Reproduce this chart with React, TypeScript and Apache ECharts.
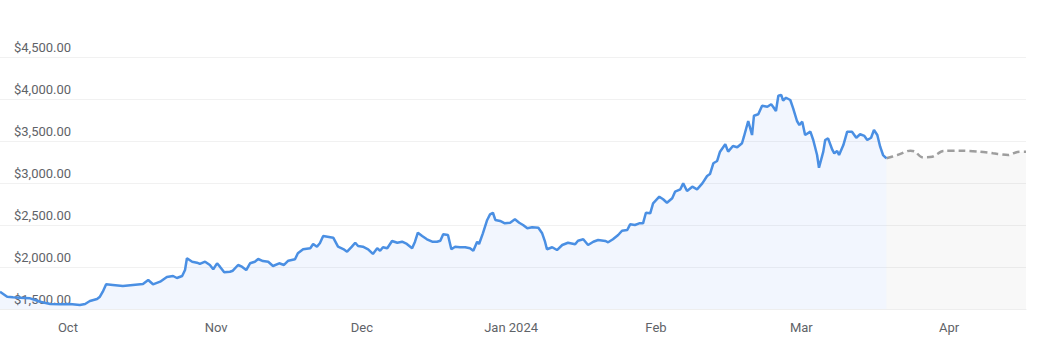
import React, { useEffect, useRef } from "react";
import * as echarts from "echarts";

const histDays = [
  0, 1.5, 2.7, 4.2, 6.3, 8.4, 10.5, 12.6, 14.6, 16.7, 17.8, 18.8, 20.3, 20.9, 21.5, 22.2, 23.6, 25.7, 27.8, 29.9,
  31.0, 32.0, 33.5, 34.9, 36.2, 37.0, 38.1, 38.7, 39.1, 40.2, 41.2, 41.8, 42.9, 43.9, 44.6, 45.4, 46.0, 46.9, 48.1, 48.7,
  49.8, 50.6, 51.5, 52.3, 53.3, 54.0, 55.0, 56.1, 57.1, 58.4, 59.4, 60.3, 61.7, 62.3, 63.4, 64.9, 65.5, 66.3, 66.9, 67.6,
  69.7, 70.7, 71.8, 72.6, 73.6, 74.3, 74.9, 75.9, 77.0, 78.0, 78.9, 79.5, 80.1, 81.0, 82.0, 83.1, 84.1, 85.1, 86.2, 86.8,
  87.4, 88.3, 89.3, 90.4, 91.4, 92.1, 92.7, 93.7, 94.4, 95.2, 96.2, 97.3, 98.3, 99.0, 99.8, 100.2, 101.0, 101.9, 102.5, 103.1,
  103.6, 104.6, 105.6, 106.7, 107.7, 108.6, 109.4, 110.3, 111.3, 112.6, 113.4, 114.0, 114.4, 115.5, 116.5, 117.6, 118.8, 120.3, 120.9, 122.0,
  123.0, 124.1, 125.1, 126.6, 127.2, 128.2, 129.3, 130.1, 131.2, 131.8, 132.8, 133.7, 134.5, 135.1, 136.0, 136.6, 137.9, 138.7, 139.5, 140.6,
  141.2, 142.3, 142.9, 143.7, 144.8, 145.8, 146.9, 147.9, 148.5, 149.2, 150.0, 150.6, 151.7, 152.3, 153.3, 154.2, 155.2, 155.6, 156.5, 157.3,
  157.7, 158.6, 159.4, 160.5, 161.3, 161.7, 162.3, 162.8, 163.4, 163.8, 164.4, 165.3, 165.9, 166.7, 167.2, 167.8, 168.4, 169.5, 170.1, 170.9,
  171.3, 172.2, 172.6, 173.2, 174.1, 174.5, 175.1, 175.5, 176.4, 177.2, 178.2, 179.1, 179.9, 180.8, 181.4, 182.2, 182.8, 183.5, 184.1, 184.7,
  185.4,
];

const histPrices = [
  1706, 1646, 1639, 1635, 1627, 1587, 1560, 1556, 1560, 1548, 1560, 1595, 1619, 1646, 1706, 1794, 1786, 1774, 1786, 1798,
  1845, 1794, 1825, 1881, 1893, 1869, 1893, 1964, 2104, 2063, 2051, 2036, 2063, 2024, 1973, 2044, 2004, 1937, 1944, 1956,
  2024, 2004, 1964, 2044, 2063, 2095, 2071, 2063, 2012, 2044, 2024, 2075, 2092, 2163, 2211, 2223, 2274, 2242, 2282, 2369,
  2349, 2242, 2214, 2182, 2242, 2289, 2250, 2242, 2211, 2155, 2223, 2194, 2235, 2223, 2310, 2289, 2301, 2274, 2223, 2301,
  2408, 2369, 2330, 2301, 2301, 2313, 2389, 2381, 2211, 2242, 2235, 2235, 2223, 2194, 2301, 2274, 2401, 2560, 2627, 2646,
  2560, 2548, 2520, 2527, 2568, 2527, 2500, 2461, 2473, 2468, 2401, 2301, 2211, 2235, 2202, 2262, 2289, 2270, 2313, 2330,
  2262, 2301, 2321, 2310, 2294, 2330, 2381, 2432, 2440, 2508, 2500, 2520, 2520, 2646, 2639, 2758, 2837, 2806, 2765, 2818,
  2896, 2925, 2996, 2905, 2956, 2925, 2996, 3083, 3107, 3235, 3262, 3373, 3461, 3373, 3440, 3425, 3473, 3551, 3738, 3571,
  3801, 3818, 3920, 3908, 3937, 3908, 3857, 4039, 4048, 3980, 4015, 3988, 3889, 3738, 3690, 3730, 3571, 3611, 3512, 3333,
  3182, 3373, 3512, 3532, 3393, 3354, 3381, 3333, 3452, 3611, 3611, 3539, 3580, 3560, 3512, 3539, 3631, 3571, 3432, 3333,
  3294,
];

const forecastDays = [185.4, 187.7, 190.4, 191.4, 192.9, 195.0, 197.3, 200.8, 205.0, 207.7, 210.9, 212.8, 214.6];
const forecastPrices = [3294, 3333, 3385, 3373, 3306, 3313, 3381, 3385, 3373, 3354, 3333, 3369, 3373];

const monthDays = [14.2, 45.2, 75.7, 106.9, 137.2, 167.6, 198.5];
const monthLabels = ["Oct", "Nov", "Dec", "Jan 2024", "Feb", "Mar", "Apr"];

const yMin = 1500;
const yMax = 4500;
const yStep = 500;
const xMax = 214.6;

export default function App() {
  const ref = useRef<HTMLDivElement>(null);

  useEffect(() => {
    document.body.style.margin = "0";
    const chart = echarts.init(ref.current!, null, { renderer: "svg" });
    const fmtPrice = (v: number) =>
      "$" + v.toLocaleString("en-US", { minimumFractionDigits: 2, maximumFractionDigits: 2 });
    const fmtMonth = (v: number) => {
      let best = 0;
      monthDays.forEach((d, i) => {
        if (Math.abs(d - v) < Math.abs(monthDays[best] - v)) best = i;
      });
      return monthLabels[best];
    };
    chart.setOption({
      animation: false,
      grid: { left: 0, right: 11, top: 57, bottom: 46 },
      xAxis: {
        type: "value",
        min: 0,
        max: xMax,
        axisLine: { show: true, lineStyle: { color: "#eeeeee", width: 1 } },
        axisTick: { show: false },
        splitLine: { show: false },
        axisLabel: {
          customValues: monthDays,
          formatter: fmtMonth,
          color: "#5f6368",
          fontSize: 13,
          fontFamily: "Roboto",
          margin: 12,
        },
      },
      yAxis: {
        type: "value",
        min: yMin,
        max: yMax,
        interval: yStep,
        axisLine: { show: false },
        axisTick: { show: false },
        splitLine: { show: true, lineStyle: { color: "#f1f1f1", width: 1 } },
        axisLabel: {
          inside: true,
          margin: 14,
          verticalAlign: "bottom",
          lineHeight: 20,
          formatter: fmtPrice,
          color: "#5f6368",
          fontSize: 13,
          fontFamily: "Roboto",
        },
      },
      series: [
        {
          type: "line",
          data: histDays.map((d, i) => [d, histPrices[i]]),
          showSymbol: false,
          symbol: "none",
          lineStyle: { color: "#4a8fe3", width: 2.5 },
          areaStyle: { color: "rgba(66,133,244,0.1)" },
          z: 3,
        },
        {
          type: "line",
          data: forecastDays.map((d, i) => [d, forecastPrices[i]]),
          showSymbol: false,
          symbol: "none",
          smooth: 0.3,
          lineStyle: { color: "#9e9e9e", width: 2.5, type: [7, 4] },
          areaStyle: { color: "rgba(0,0,0,0.04)" },
          z: 2,
        },
      ],
    });
    return () => chart.dispose();
  }, []);

  return <div ref={ref} style={{ width: 1037, height: 355 }} />;
}
